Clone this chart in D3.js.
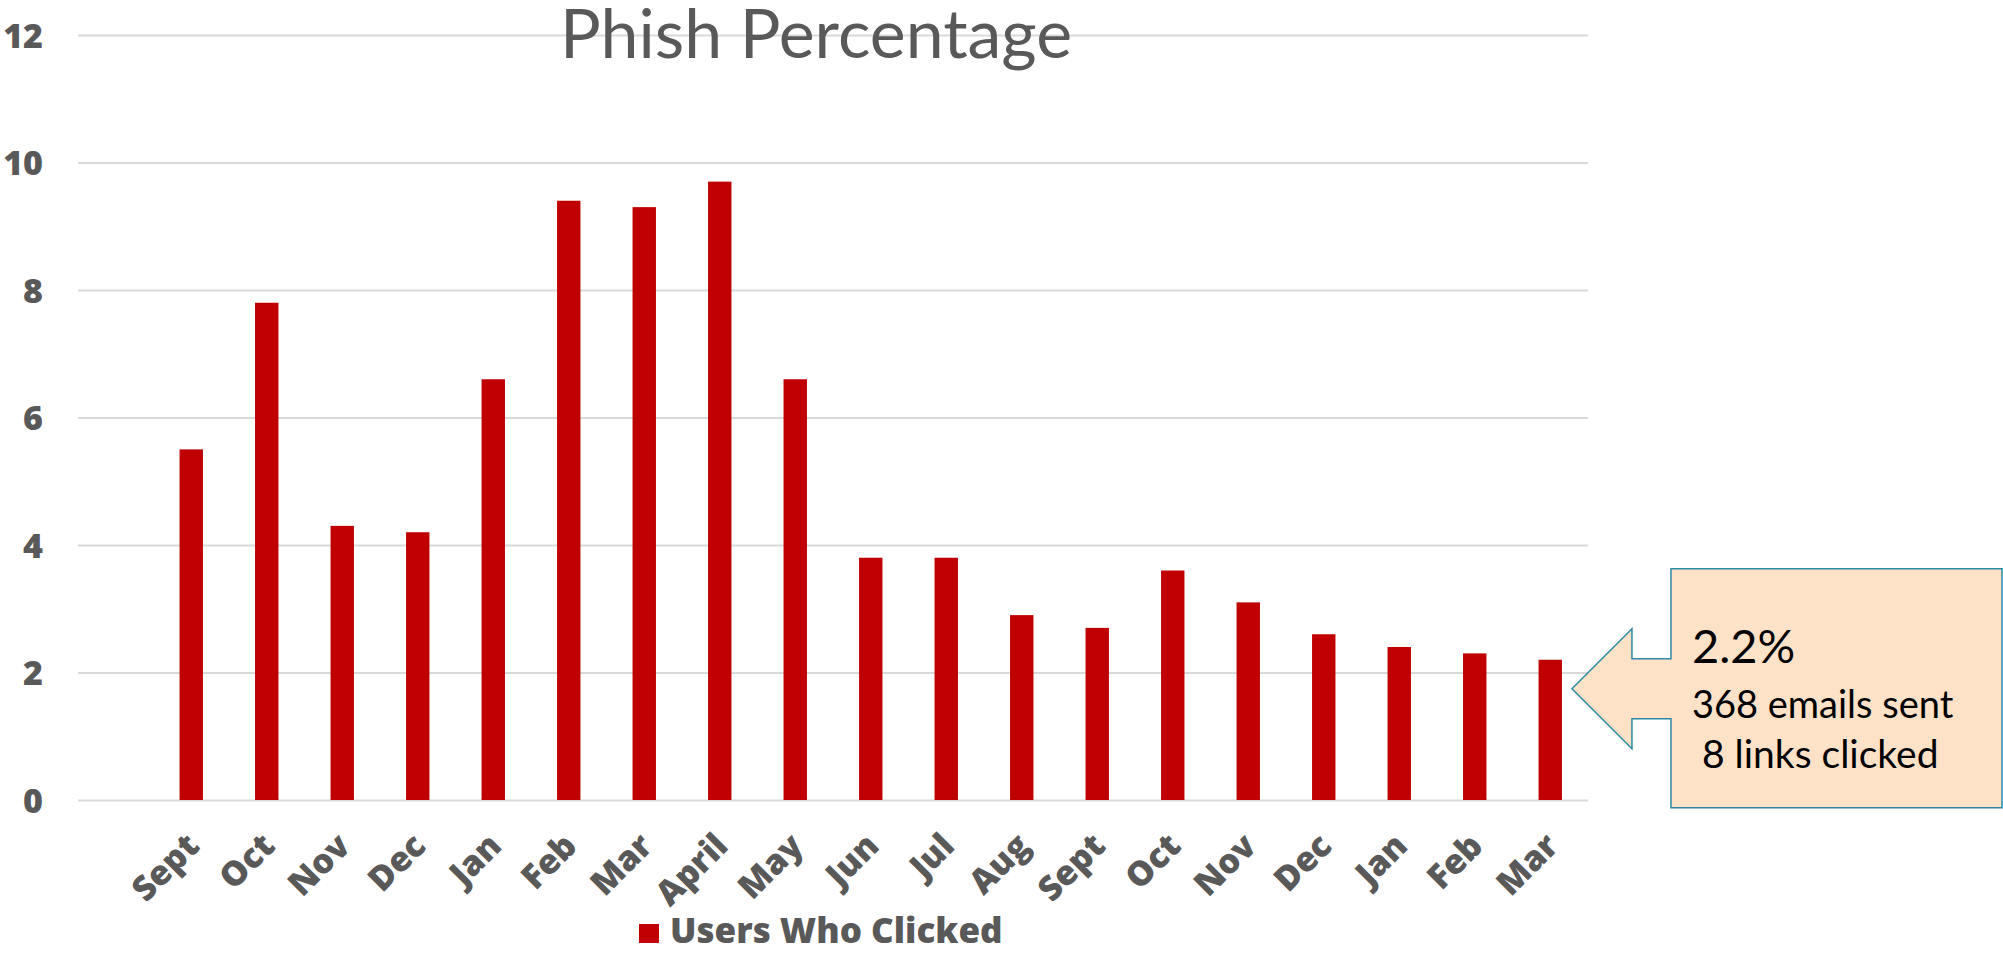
<!DOCTYPE html>
<html>
<head>
<meta charset="utf-8">
<script src="https://cdn.jsdelivr.net/npm/d3@7"></script>
<style>
  html, body { margin: 0; padding: 0; background: #ffffff; }
  svg { display: block; }
</style>
</head>
<body>
<svg id="chart" width="2003" height="954"></svg>
<script>
// Monthly phishing-test click rate (percent of users who clicked).
// The leading blank slot keeps an empty category before the first month.
const months  = ["", "Sept", "Oct", "Nov", "Dec", "Jan", "Feb", "Mar", "April", "May",
                 "Jun", "Jul", "Aug", "Sept", "Oct", "Nov", "Dec", "Jan", "Feb", "Mar"];
const clicked = [null, 5.5, 7.8, 4.3, 4.2, 6.6, 9.4, 9.3, 9.7, 6.6,
                 3.8, 3.8, 2.9, 2.7, 3.6, 3.1, 2.6, 2.4, 2.3, 2.2];
const yTicks = [0, 2, 4, 6, 8, 10, 12];
const seriesName = "Users Who Clicked";
const titleText = "Phish Percentage";
const emailsSent = 368;
const linksClicked = 8;

const FONT = "Lato, 'Open Sans', sans-serif";
const BOLD_FONT = "'Open Sans', Lato, sans-serif";
const GRAY = "#595959";
const RED = "#C00000";

const svg = d3.select("#chart");
const plot = { left: 78, right: 1588, top: 35, bottom: 800 };

const x = d3.scaleBand()
  .domain(d3.range(months.length))
  .range([plot.left, plot.right])
  .padding(0);
const barW = x.bandwidth() * 0.31;

const y = d3.scaleLinear()
  .domain([0, 12])
  .range([plot.bottom, plot.top]);

// Horizontal gridlines with value labels
const yAxis = svg.append("g")
  .attr("transform", `translate(${plot.left},0)`)
  .call(d3.axisLeft(y)
    .tickValues(yTicks)
    .tickSize(-(plot.right - plot.left))
    .tickPadding(35)
    .tickFormat(d3.format("d")));
yAxis.select(".domain").remove();
yAxis.selectAll(".tick line").attr("stroke", "#D9D9D9").attr("stroke-width", 2);
yAxis.selectAll(".tick text")
  .attr("fill", GRAY)
  .attr("dy", "0.36em")
  .style("font-family", BOLD_FONT)
  .style("font-weight", 800)
  .style("font-size", "34px");

// Title
svg.append("text")
  .attr("x", 816)
  .attr("y", 58)
  .attr("text-anchor", "middle")
  .attr("fill", GRAY)
  .style("font-family", FONT)
  .style("font-size", "68px")
  .text(titleText);

// Bars
const data = clicked.map((v, i) => ({ i, v })).filter(d => d.v !== null);
svg.append("g")
  .selectAll("rect")
  .data(data)
  .join("rect")
  .attr("x", d => x(d.i) + (x.bandwidth() - barW) / 2)
  .attr("y", d => y(d.v))
  .attr("width", barW)
  .attr("height", d => y(0) - y(d.v))
  .attr("fill", RED);

// Category labels, rotated
const xAxis = svg.append("g")
  .attr("transform", `translate(0,${plot.bottom})`)
  .call(d3.axisBottom(x).tickSize(0).tickFormat(i => months[i]));
xAxis.select(".domain").remove();
xAxis.selectAll(".tick text")
  .attr("text-anchor", "end")
  .attr("dy", 0)
  .attr("y", 0)
  .attr("transform", "translate(10,48) rotate(-45)")
  .attr("fill", GRAY)
  .style("font-family", BOLD_FONT)
  .style("font-weight", 800)
  .style("font-size", "34px");

// Legend
const legend = svg.append("g").attr("transform", "translate(639,924)");
legend.append("rect").attr("width", 20).attr("height", 19).attr("fill", RED);
legend.append("text")
  .attr("x", 31)
  .attr("y", 19)
  .attr("fill", GRAY)
  .style("font-family", BOLD_FONT)
  .style("font-weight", 800)
  .style("font-size", "35px")
  .text(seriesName);

// Callout pointing at the latest month
const lastIdx = clicked.length - 1;
const lastVal = clicked[lastIdx];
const tipX = x(lastIdx) + x.bandwidth() / 2 + barW / 2 + 10;
const tipY = y(lastVal) + 29;
const headW = 60, headH = 60, shaftH = 30, shaftW = 39;
const boxL = tipX + headW + shaftW, boxR = 2002, boxT = tipY - 120, boxB = tipY + 119;
const callout = [
  [tipX, tipY],
  [tipX + headW, tipY - headH],
  [tipX + headW, tipY - shaftH],
  [boxL, tipY - shaftH],
  [boxL, boxT],
  [boxR, boxT],
  [boxR, boxB],
  [boxL, boxB],
  [boxL, tipY + shaftH],
  [tipX + headW, tipY + shaftH],
  [tipX + headW, tipY + headH]
];
svg.append("path")
  .attr("d", d3.line()(callout) + "Z")
  .attr("fill", "#FDE2C8")
  .attr("stroke", "#2E87A6")
  .attr("stroke-width", 1.5);

const note = svg.append("g").style("font-family", FONT).attr("fill", "#000");
note.append("text")
  .attr("x", boxL + 21).attr("y", tipY - 26)
  .style("font-size", "47px")
  .text(`${lastVal}%`);
note.append("text")
  .attr("x", boxL + 21).attr("y", tipY + 29)
  .style("font-size", "38px")
  .text(`${emailsSent} emails sent`);
note.append("text")
  .attr("x", boxL + 21).attr("y", tipY + 79)
  .style("font-size", "39px")
  .style("white-space", "pre")
  .text(` ${linksClicked} links clicked`);
</script>
</body>
</html>
